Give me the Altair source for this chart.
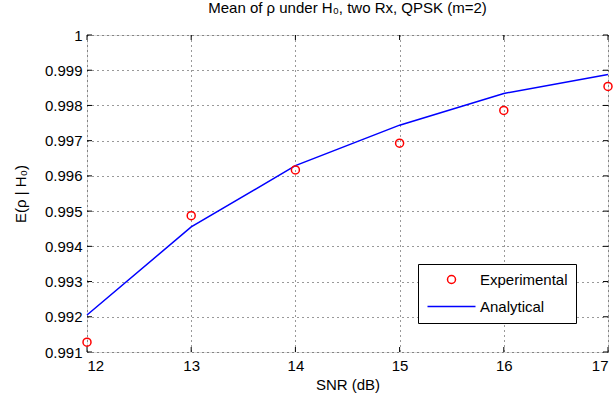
import altair as alt
import pandas as pd

snr = [12, 13, 14, 15, 16, 17]
experimental = [0.99128, 0.99487, 0.99617, 0.99693, 0.99786, 0.99854]
analytical = [0.99205, 0.99455, 0.99629, 0.99744, 0.99834, 0.99888]
series = ["Experimental", "Analytical"]
x_ticks = [12, 13, 14, 15, 16, 17]
y_ticks = [0.991, 0.992, 0.993, 0.994, 0.995, 0.996, 0.997, 0.998, 0.999, 1.0]

W, H = 521, 317
FONT = "Liberation Sans"
FS = 15

df = pd.DataFrame({
    "snr": snr + snr,
    "value": experimental + analytical,
    "series": ["Experimental"] * len(snr) + ["Analytical"] * len(snr),
})
df_exp = df[df.series == "Experimental"]
df_ana = df[df.series == "Analytical"]
xt = pd.DataFrame({"snr": x_ticks})
yt = pd.DataFrame({"value": y_ticks})

legend = alt.Legend(
    title=None, orient="none", legendX=331, legendY=229,
    strokeColor="black", fillColor="white", padding=8, cornerRadius=0,
    symbolSize=64, symbolStrokeWidth=1.5, symbolOffset=18, labelOffset=21,
    labelFont=FONT, labelFontSize=FS, labelColor="black", rowPadding=11,
)
color_scale = alt.Scale(domain=series, range=["#ff0000", "#0000ff"])
shape_scale = alt.Scale(domain=series, range=["circle", "M-6,0L6,0"])

xscale = alt.Scale(domain=[12, 17], nice=False, zero=False)
yscale = alt.Scale(domain=[0.991, 1.0], nice=False, zero=False)

x_enc = alt.X("snr:Q", scale=xscale, axis=alt.Axis(
    values=x_ticks, format="d", grid=True, ticks=False, domain=False,
    title="SNR (dB)", labelPadding=6, titlePadding=4,
    labelFont=FONT, labelFontSize=FS, titleFont=FONT, titleFontSize=FS,
    titleFontWeight="normal", labelColor="black", titleColor="black",
    gridColor="black", gridDash=[1, 4], gridOpacity=0.8, gridWidth=1,
))
y_enc = alt.Y("value:Q", scale=yscale, axis=alt.Axis(
    values=y_ticks, labelExpr="format(datum.value, '.3~f')", grid=True,
    ticks=False, domain=False, title="E(ρ | H₀)", labelPadding=5,
    titlePadding=16, labelFont=FONT, labelFontSize=FS, titleFont=FONT,
    titleFontSize=FS, titleFontWeight="normal", labelColor="black",
    titleColor="black", gridColor="black", gridDash=[1, 4], gridOpacity=0.8,
    gridWidth=1,
))

line = alt.Chart(df_ana).mark_line(strokeWidth=1.5).encode(
    x=x_enc, y=y_enc,
    color=alt.Color("series:N", scale=color_scale, legend=legend),
)
points = alt.Chart(df_exp).mark_point(filled=False, size=64, strokeWidth=1.5, opacity=1).encode(
    x=x_enc, y=y_enc,
    color=alt.Color("series:N", scale=color_scale, legend=legend),
    shape=alt.Shape("series:N", scale=shape_scale, legend=legend),
)

tick_style = dict(color="black", strokeWidth=1)
left_t = alt.Chart(yt).mark_rule(**tick_style).encode(
    y=y_enc, x=alt.value(0), x2=alt.value(5))
right_t = alt.Chart(yt).mark_rule(**tick_style).encode(
    y=y_enc, x=alt.value(W - 5), x2=alt.value(W))
bottom_t = alt.Chart(xt).mark_rule(**tick_style).encode(
    x=x_enc, y=alt.value(H), y2=alt.value(H - 5))
top_t = alt.Chart(xt).mark_rule(**tick_style).encode(
    x=x_enc, y=alt.value(0), y2=alt.value(5))

chart = alt.layer(line, left_t, right_t, bottom_t, top_t, points).properties(
    width=W, height=H,
    title=alt.Title("Mean of ρ under H₀, two Rx, QPSK (m=2)", font=FONT,
                    fontSize=FS, fontWeight="normal", color="black", offset=12),
    autosize=alt.AutoSizeParams(type="none"),
    padding={"left": 87, "top": 35, "right": 8, "bottom": 47},
).configure_view(stroke="black", strokeWidth=1).configure(background="white")

chart.save("out.html", embed_options={"renderer": "svg", "actions": False})
